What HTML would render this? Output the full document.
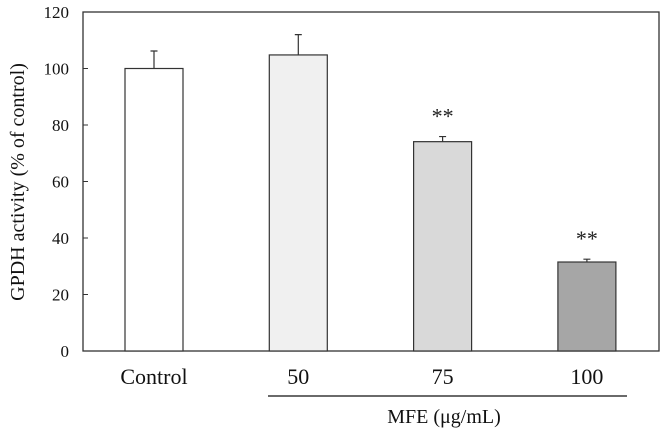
<!DOCTYPE html>
<html><head><meta charset="utf-8"><style>
body{margin:0;background:#fff}
svg{display:block;font-family:"Liberation Serif",serif}
</style></head><body>
<svg id="chart" width="661" height="435">
<rect x="83" y="12" width="576" height="339" fill="none" stroke="#333" stroke-width="1.3"/>
<g id="yaxis"></g>
<g id="bars"></g>
<text transform="translate(24,182) rotate(-90)" text-anchor="middle" font-size="20" fill="#111">GPDH activity (% of control)</text>
<line x1="268" y1="396" x2="627" y2="396" stroke="#111" stroke-width="1.2"/>
<text x="444" y="423" text-anchor="middle" font-size="20" fill="#111">MFE (μg/mL)</text>
</svg>
<script>
const categories=["Control","50","75","100"];
const values=[100,104.8,74.1,31.5];
const errors=[6.2,7.2,1.8,1.0];
const marks=["","","**","**"];
const fills=["#ffffff","#f0f0f0","#d9d9d9","#a6a6a6"];
const yTicks=[0,20,40,60,80,100,120];
const NS="http://www.w3.org/2000/svg";
const y0=351,y1=12,yMax=120;
function yS(v){return y0-(v/yMax)*(y0-y1);}
function xC(i){return 154+i*144.3;}
const bw=58;
function mk(t,a,p){const e=document.createElementNS(NS,t);for(const k in a)e.setAttribute(k,a[k]);p.appendChild(e);return e;}
const ya=document.getElementById('yaxis');
yTicks.forEach(t=>{
 const l=mk('line',{x1:83,x2:88,y1:yS(t),y2:yS(t),stroke:'#333','stroke-width':1},ya);
 
 
 const tx=mk('text',{x:69,y:yS(t)+6,'text-anchor':'end','font-size':17,fill:'#111'},ya);
 tx.textContent=t;
 
 
});
const bg=document.getElementById('bars');
categories.forEach((c,i)=>{
 const x=xC(i)-bw/2, top=yS(values[i]);
 const r=mk('rect',{x:x,y:top,width:bw,height:y0-top,fill:fills[i],stroke:'#333','stroke-width':1.2},bg);
 
 
 const ey=yS(values[i]+errors[i]);
 const e=mk('path',{d:`M${xC(i)},${top}V${ey}M${xC(i)-3.5},${ey}H${xC(i)+3.5}`,stroke:'#333','stroke-width':1.2,fill:'none'},bg);
 
 
 if(marks[i]){
  const s=mk('text',{x:xC(i),y:ey-13,'text-anchor':'middle','font-size':22,fill:'#222'},bg);
  s.textContent=marks[i];
  
  
 }
 const lb=mk('text',{x:xC(i),y:384,'text-anchor':'middle','font-size':22,fill:'#111'},bg);
 lb.textContent=c;
 
 
});
</script>
</body></html>
